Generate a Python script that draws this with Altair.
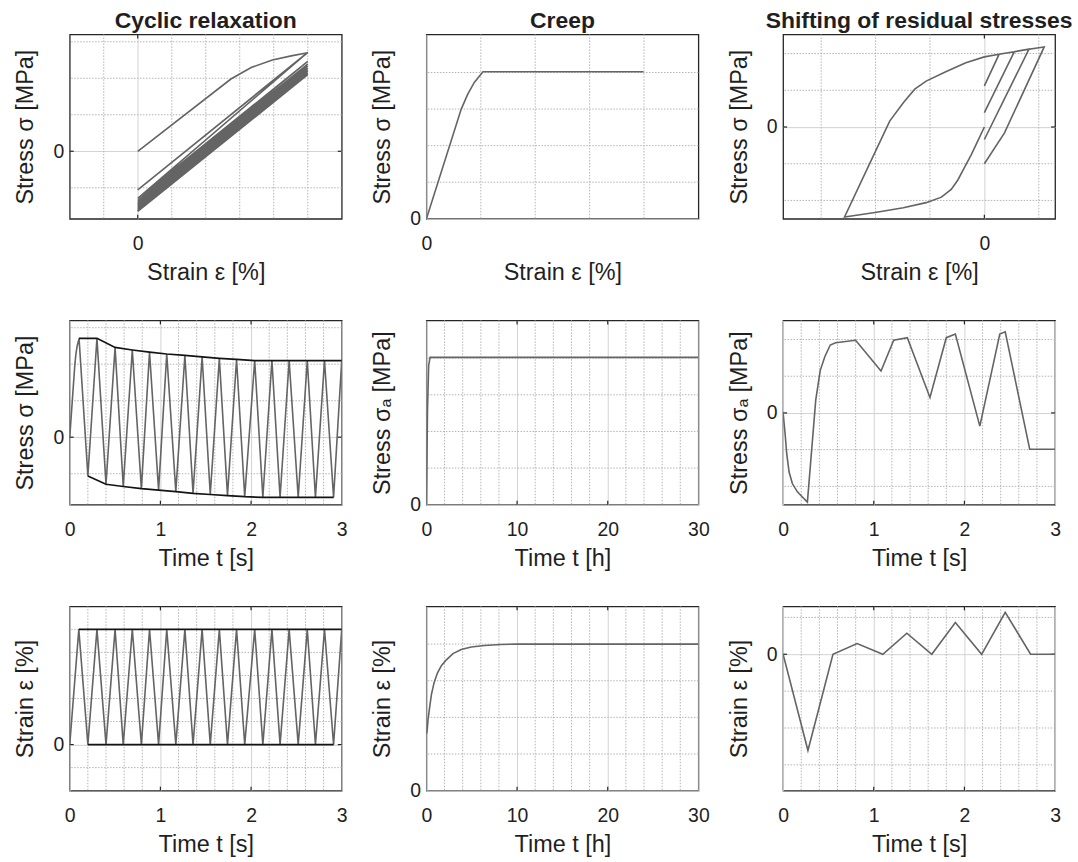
import altair as alt
import pandas as pd

FONT = "Liberation Sans"
TEXT = "#1f1f1f"
CURVE = "#646464"
ENVELOPE = "#141414"
MAJOR_GRID = "#d2d2d2"
MINOR_GRID = "#b4b4b4"
W, H = 273, 185
LW = 1.6

# ---------------- Cyclic relaxation ----------------
# first loading branch (strain, stress)
cr_load_strain = [0.0, 2.74, 3.35, 3.96, 4.55, 5.0]
cr_load_stress = [0.0, 1.98, 2.30, 2.50, 2.62, 2.70]
# same branch against time
cr_load_time = [0.0, 0.056, 0.069, 0.082, 0.094, 0.103]
# turning points of the strain-controlled cycles
cr_peak_time = [0.10, 0.30, 0.50, 0.69, 0.88, 1.07, 1.27, 1.46,
                1.65, 1.84, 2.04, 2.23, 2.42, 2.62, 2.81, 3.00]
cr_peak_stress = [2.71, 2.71, 2.46, 2.39, 2.33, 2.28, 2.24, 2.20,
                  2.16, 2.13, 2.10, 2.10, 2.10, 2.10, 2.10, 2.10]
cr_peak_strain = [5.0, 5.0, 5.0, 5.0, 5.0, 5.0, 5.0, 5.0,
                  5.0, 5.0, 5.0, 5.0, 5.0, 5.0, 5.0, 5.0]
cr_valley_time = [0.20, 0.40, 0.59, 0.79, 0.98, 1.17, 1.36, 1.55,
                  1.74, 1.93, 2.13, 2.32, 2.52, 2.71, 2.91]
cr_valley_stress = [-1.06, -1.29, -1.35, -1.41, -1.45, -1.49, -1.54, -1.57,
                    -1.60, -1.63, -1.65, -1.65, -1.65, -1.65, -1.65]
cr_valley_strain = [0.0, 0.0, 0.0, 0.0, 0.0, 0.0, 0.0, 0.0,
                    0.0, 0.0, 0.0, 0.0, 0.0, 0.0, 0.0]

# ---------------- Creep ----------------
cp_strain = [0.0, 0.64, 0.76, 0.88, 0.98, 1.04, 3.99]
cp_stress = [0.0, 3.00, 3.41, 3.73, 3.91, 4.02, 4.02]
cp_stress_time = [0.0, 0.12, 0.25, 0.40, 30.0]
cp_stress_hist = [0.0, 2.60, 3.80, 4.02, 4.02]
cp_strain_time = [0.0, 0.07, 0.18, 0.37, 0.55, 0.84, 1.21, 1.65, 2.2,
                  2.93, 3.84, 4.94, 6.4, 8.2, 10.1, 30.0]
cp_strain_hist = [1.55, 1.62, 1.94, 2.30, 2.62, 2.94, 3.21, 3.41, 3.57,
                  3.74, 3.85, 3.92, 3.96, 3.99, 4.00, 4.00]

# ---------------- Shifting of residual stresses ----------------
sr_strain = [0.0, -0.12, -0.24, -0.37, -0.49, -0.61, -0.79, -1.07, -1.49, -1.98, -2.57,
             -2.10, -1.74, -1.49, -1.28, -1.07, -0.70, -0.34, 0.0, 0.27,
             0.0, 0.27, 0.55, 0.0, 0.55, 0.82, 0.0, 0.82, 1.10, 0.37, 0.0]
sr_stress = [0.0, -0.38, -0.75, -1.11, -1.45, -1.70, -1.91, -2.06, -2.20, -2.32, -2.45,
             -0.97, 0.16, 0.66, 1.03, 1.25, 1.51, 1.75, 1.91, 1.98,
             1.12, 1.98, 2.05, 0.39, 2.05, 2.12, -0.34, 2.12, 2.18, -0.16, -1.00]
sr_stress_time = [0.0, 0.022, 0.04, 0.066, 0.103, 0.158, 0.213, 0.268,
                  0.36, 0.41, 0.46, 0.52, 0.58, 0.80, 1.08, 1.22, 1.37,
                  1.62, 1.80, 1.90, 2.17, 2.39, 2.45, 2.72, 3.0]
sr_stress_hist = [0.0, -0.56, -1.11, -1.61, -1.93, -2.15, -2.29, -2.43,
                  0.35, 1.16, 1.53, 1.85, 1.91, 1.98, 1.14, 1.98, 2.05,
                  0.42, 2.05, 2.15, -0.36, 2.15, 2.21, -0.99, -0.99]
sr_strain_time = [0.0, 0.274, 0.55, 0.816, 1.10, 1.365, 1.64, 1.90, 2.19, 2.45, 2.73, 3.0]
sr_strain_hist = [0.0, -2.61, 0.0, 0.29, 0.0, 0.57, 0.0, 0.86, 0.0, 1.14, 0.0, 0.0]

# ---------------- grid / tick positions ----------------
time_s_major = [0, 1, 2, 3]
time_s_minor = [0.2, 0.4, 0.6, 0.8, 1.2, 1.4, 1.6, 1.8, 2.2, 2.4, 2.6, 2.8]
time_h_major = [0, 10, 20, 30]
time_h_minor = [2, 4, 6, 8, 12, 14, 16, 18, 22, 24, 26, 28]


def path(xs, ys):
    return pd.DataFrame({"x": xs, "y": ys, "i": list(range(len(xs)))})


def panel(lines, xdom, ydom, xmajor, ymajor, xminor, yminor, xtitle, ytitle, title=None):
    xs = alt.Scale(domain=xdom, nice=False, zero=False)
    ys = alt.Scale(domain=ydom, nice=False, zero=False)
    xax = alt.Axis(values=xmajor, title=xtitle, format="d")
    yax = alt.Axis(values=ymajor, title=ytitle, format="d")

    def X(f):
        return alt.X(f, type="quantitative", scale=xs, axis=xax)

    def Y(f):
        return alt.Y(f, type="quantitative", scale=ys, axis=yax)

    layers = [
        alt.Chart(pd.DataFrame({"x": xminor})).mark_rule(
            color=MINOR_GRID, strokeWidth=1, strokeDash=[1.5, 1.5]).encode(x=X("x")),
        alt.Chart(pd.DataFrame({"y": yminor})).mark_rule(
            color=MINOR_GRID, strokeWidth=1, strokeDash=[1.5, 1.5]).encode(y=Y("y")),
    ]
    # inward major ticks on all four sides of the box
    xin = [v for v in xmajor if xdom[0] < v < xdom[1]]
    yin = [v for v in ymajor if ydom[0] < v < ydom[1]]
    if xin:
        tx = alt.Chart(pd.DataFrame({"x": xin})).mark_rule(color="#262626", strokeWidth=1.2)
        layers.append(tx.encode(x=X("x"), y=alt.value(0), y2=alt.value(4)))
        layers.append(tx.encode(x=X("x"), y=alt.value(H - 4), y2=alt.value(H)))
    if yin:
        ty = alt.Chart(pd.DataFrame({"y": yin})).mark_rule(color="#262626", strokeWidth=1.2)
        layers.append(ty.encode(y=Y("y"), x=alt.value(0), x2=alt.value(4)))
        layers.append(ty.encode(y=Y("y"), x=alt.value(W - 4), x2=alt.value(W)))
    for df, color, width in lines:
        layers.append(
            alt.Chart(df).mark_line(color=color, strokeWidth=width, clip=True).encode(
                x=X("x"), y=Y("y"), order=alt.Order("i:Q"))
        )
    ch = alt.layer(*layers).properties(width=W, height=H)
    if title:
        ch = ch.properties(title=alt.TitleParams(
            title, font=FONT, fontSize=23, fontWeight="bold", color=TEXT,
            anchor="middle", frame="group", baseline="alphabetic", offset=4.5, dy=22))
    return ch


# cyclic relaxation paths built from the turning points
cr_ss_x, cr_ss_y = list(cr_load_strain), list(cr_load_stress)
cr_ts_x, cr_ts_y = list(cr_load_time), list(cr_load_stress)
cr_te_x, cr_te_y = [0.0], [0.0]
cr_te_x.append(cr_peak_time[0]); cr_te_y.append(cr_peak_strain[0])
for k in range(len(cr_valley_time)):
    cr_ss_x += [cr_valley_strain[k], cr_peak_strain[k + 1]]
    cr_ss_y += [cr_valley_stress[k], cr_peak_stress[k + 1]]
    cr_ts_x += [cr_valley_time[k], cr_peak_time[k + 1]]
    cr_ts_y += [cr_valley_stress[k], cr_peak_stress[k + 1]]
    cr_te_x += [cr_valley_time[k], cr_peak_time[k + 1]]
    cr_te_y += [cr_valley_strain[k], cr_peak_strain[k + 1]]

STRAIN = "Strain ε [%]"
STRESS = "Stress σ [MPa]"
STRESS_A = "Stress σₐ [MPa]"

p11 = panel([(path(cr_ss_x, cr_ss_y), CURVE, LW)],
            [-2, 6], [-1.85, 3.2], [0], [0], [-1, 1, 2, 3, 4, 5], [-1, 1, 2, 3],
            STRAIN, STRESS, "Cyclic relaxation")
p12 = panel([(path(cp_strain, cp_stress), CURVE, LW)],
            [0, 5], [0, 5.04], [0], [0], [1, 2, 3, 4], [1, 2, 3, 4],
            STRAIN, STRESS, "Creep")
p13 = panel([(path(sr_strain, sr_stress), CURVE, LW)],
            [-3.7, 1.3], [-2.5, 2.52], [0], [0], [-3, -2, -1, 1], [-2, -1, 1, 2],
            STRAIN, STRESS, "Shifting of residual stresses")

p21 = panel([(path(cr_ts_x, cr_ts_y), CURVE, LW),
             (path(cr_peak_time, cr_peak_stress), ENVELOPE, 1.7),
             (path(cr_valley_time, cr_valley_stress), ENVELOPE, 1.7)],
            [0, 3], [-1.85, 3.2], time_s_major, [0], time_s_minor, [-1, 1, 2, 3],
            "Time t [s]", STRESS)
p22 = panel([(path(cp_stress_time, cp_stress_hist), CURVE, LW)],
            [0, 30], [0, 5.03], time_h_major, [0], time_h_minor, [1, 2, 3, 4],
            "Time t [h]", STRESS_A)
p23 = panel([(path(sr_stress_time, sr_stress_hist), CURVE, LW)],
            [0, 3], [-2.5, 2.52], time_s_major, [0], time_s_minor, [-2, -1, 1, 2],
            "Time t [s]", STRESS_A)

p31 = panel([(path(cr_te_x, cr_te_y), CURVE, LW),
             (path(cr_peak_time, cr_peak_strain), ENVELOPE, 1.7),
             (path(cr_valley_time, cr_valley_strain), ENVELOPE, 1.7)],
            [0, 3], [-2, 6], time_s_major, [0], time_s_minor, [-1, 1, 2, 3, 4, 5],
            "Time t [s]", STRAIN)
p32 = panel([(path(cp_strain_time, cp_strain_hist), CURVE, LW)],
            [0, 30], [0, 5.03], time_h_major, [0], time_h_minor, [1, 2, 3, 4],
            "Time t [h]", STRAIN)
p33 = panel([(path(sr_strain_time, sr_strain_hist), CURVE, LW)],
            [0, 3], [-3.7, 1.3], time_s_major, [0], time_s_minor, [-3, -2, -1, 1],
            "Time t [s]", STRAIN)

chart = alt.concat(
    p11, p12, p13, p21, p22, p23, p31, p32, p33,
    columns=3, spacing={"row": 102, "column": 85}, bounds="flush",
).properties(
    padding={"left": 13, "top": 8, "right": 4, "bottom": 4},
    background="white",
).configure_view(
    stroke="#262626", strokeWidth=1.3,
).configure_axis(
    labelFont=FONT, titleFont=FONT, labelFontSize=19.5, titleFontSize=23.5,
    labelColor=TEXT, titleColor=TEXT, titleFontWeight="normal",
    domain=False, ticks=False, tickSize=0, labelFlush=False,
    grid=True, gridColor=MAJOR_GRID, gridWidth=1,
).configure_axisX(
    labelPadding=16, titleY=61, titleBaseline="alphabetic",
).configure_axisY(
    labelPadding=6, titleX=-37, titleBaseline="alphabetic",
)

chart.save("out.html", embed_options={"renderer": "svg", "actions": False})
